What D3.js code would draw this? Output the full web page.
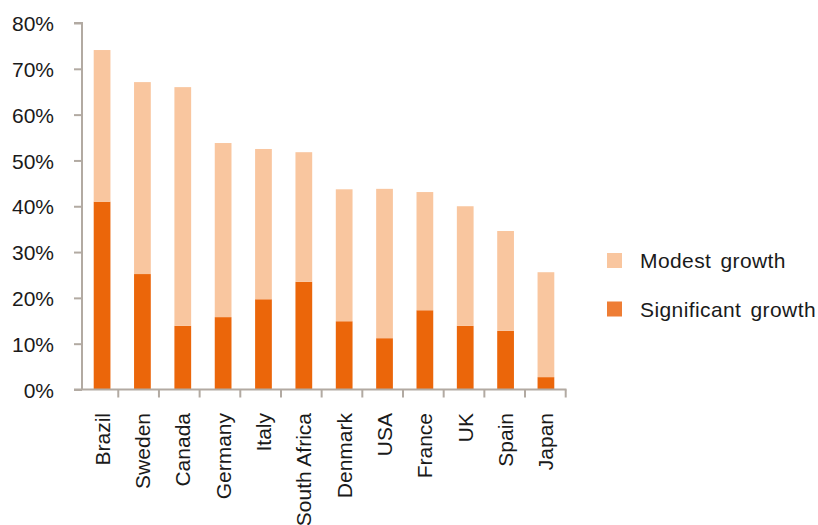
<!DOCTYPE html>
<html>
<head>
<meta charset="utf-8">
<script src="https://cdn.jsdelivr.net/npm/d3@7"></script>
<style>
  html, body { margin: 0; padding: 0; background: #ffffff; }
  svg { display: block; }
  text { font-family: "Liberation Sans", Arial, Helvetica, sans-serif; fill: #1a1a1a; }
</style>
</head>
<body>
<svg id="chart" width="818" height="525"></svg>
<script>
// Share of respondents expecting growth, by country
const countries = ["Brazil", "Sweden", "Canada", "Germany", "Italy", "South Africa",
                   "Denmark", "USA", "France", "UK", "Spain", "Japan"];
const significantGrowth = [41.0, 25.2, 13.9, 15.8, 19.7, 23.5, 14.9, 11.2, 17.3, 13.9, 12.8, 2.7];
const modestGrowth      = [33.1, 41.9, 52.1, 38.0, 32.8, 28.3, 28.8, 32.6, 25.8, 26.1, 21.8, 22.9];
const yTicks = [0, 10, 20, 30, 40, 50, 60, 70, 80];
const seriesNames = ["Significant growth", "Modest growth"];
const seriesColors = { "Significant growth": "#eb660a", "Modest growth": "#f9c69f" };

const rows = countries.map((c, i) => ({
  country: c,
  "Significant growth": significantGrowth[i],
  "Modest growth": modestGrowth[i]
}));

const svg = d3.select("#chart");
const axisColor = "#b2aaa2";

const x = d3.scaleBand().domain(countries).range([82, 566]).paddingInner(0.585).paddingOuter(0.29);
const xEdges = d3.scaleBand().domain(countries).range([77.6, 565.7]);
const y = d3.scaleLinear().domain([0, 80]).range([389.5, 23]);

const stacked = d3.stack().keys(seriesNames)(rows);

// stacked bars
svg.append("g").selectAll("g")
  .data(stacked)
  .join("g")
    .attr("fill", d => seriesColors[d.key])
  .selectAll("rect")
  .data(d => d)
  .join("rect")
    .attr("x", d => x(d.data.country))
    .attr("width", x.bandwidth())
    .attr("y", d => y(d[1]))
    .attr("height", d => y(d[0]) - y(d[1]));

// y axis
const yAxis = svg.append("g").attr("transform", "translate(82,0)")
  .call(d3.axisLeft(y).tickValues(yTicks).tickFormat(d => d + "%").tickSize(8).tickPadding(20));
yAxis.select(".domain").attr("stroke", axisColor).attr("stroke-width", 2)
  .attr("d", `M-8,${y(80)}H0V${y(0)}`);
yAxis.selectAll(".tick line").attr("stroke", axisColor).attr("stroke-width", 2);
yAxis.selectAll(".tick text").attr("font-size", 21).attr("fill", "#1a1a1a")
  .attr("font-family", "'Liberation Sans', Arial, sans-serif").attr("dy", "0.36em");

// x axis baseline with category separators
const xAxisG = svg.append("g").attr("transform", `translate(0,${y(0)})`);
xAxisG.append("line")
  .attr("x1", 74).attr("x2", 566.5).attr("y1", 0).attr("y2", 0)
  .attr("stroke", axisColor).attr("stroke-width", 2);
xAxisG.selectAll("line.sep")
  .data(countries)
  .join("line")
    .attr("class", "sep")
    .attr("x1", d => xEdges(d) + xEdges.bandwidth())
    .attr("x2", d => xEdges(d) + xEdges.bandwidth())
    .attr("y1", 0).attr("y2", 8)
    .attr("stroke", axisColor).attr("stroke-width", 2);

// rotated category labels
svg.append("g").selectAll("text")
  .data(countries)
  .join("text")
    .attr("transform", d => `translate(${x(d) + x.bandwidth() / 2},413) rotate(-90)`)
    .attr("text-anchor", "end")
    .attr("dy", "0.36em")
    .attr("font-size", 21)
    .text(d => d);

// legend
const legendItems = ["Modest growth", "Significant growth"];
const legend = svg.append("g").selectAll("g")
  .data(legendItems)
  .join("g")
    .attr("transform", (d, i) => `translate(607,${253 + i * 48.5})`);
legend.append("rect")
  .attr("width", 15).attr("height", 15)
  .attr("fill", d => d === "Modest growth" ? "#f9c69f" : "#ee7d35");
legend.append("text")
  .attr("x", 33).attr("y", 15)
  .attr("font-size", 21)
  .attr("letter-spacing", 0.4)
  .attr("word-spacing", 3)
  .text(d => d);
</script>
</body>
</html>
